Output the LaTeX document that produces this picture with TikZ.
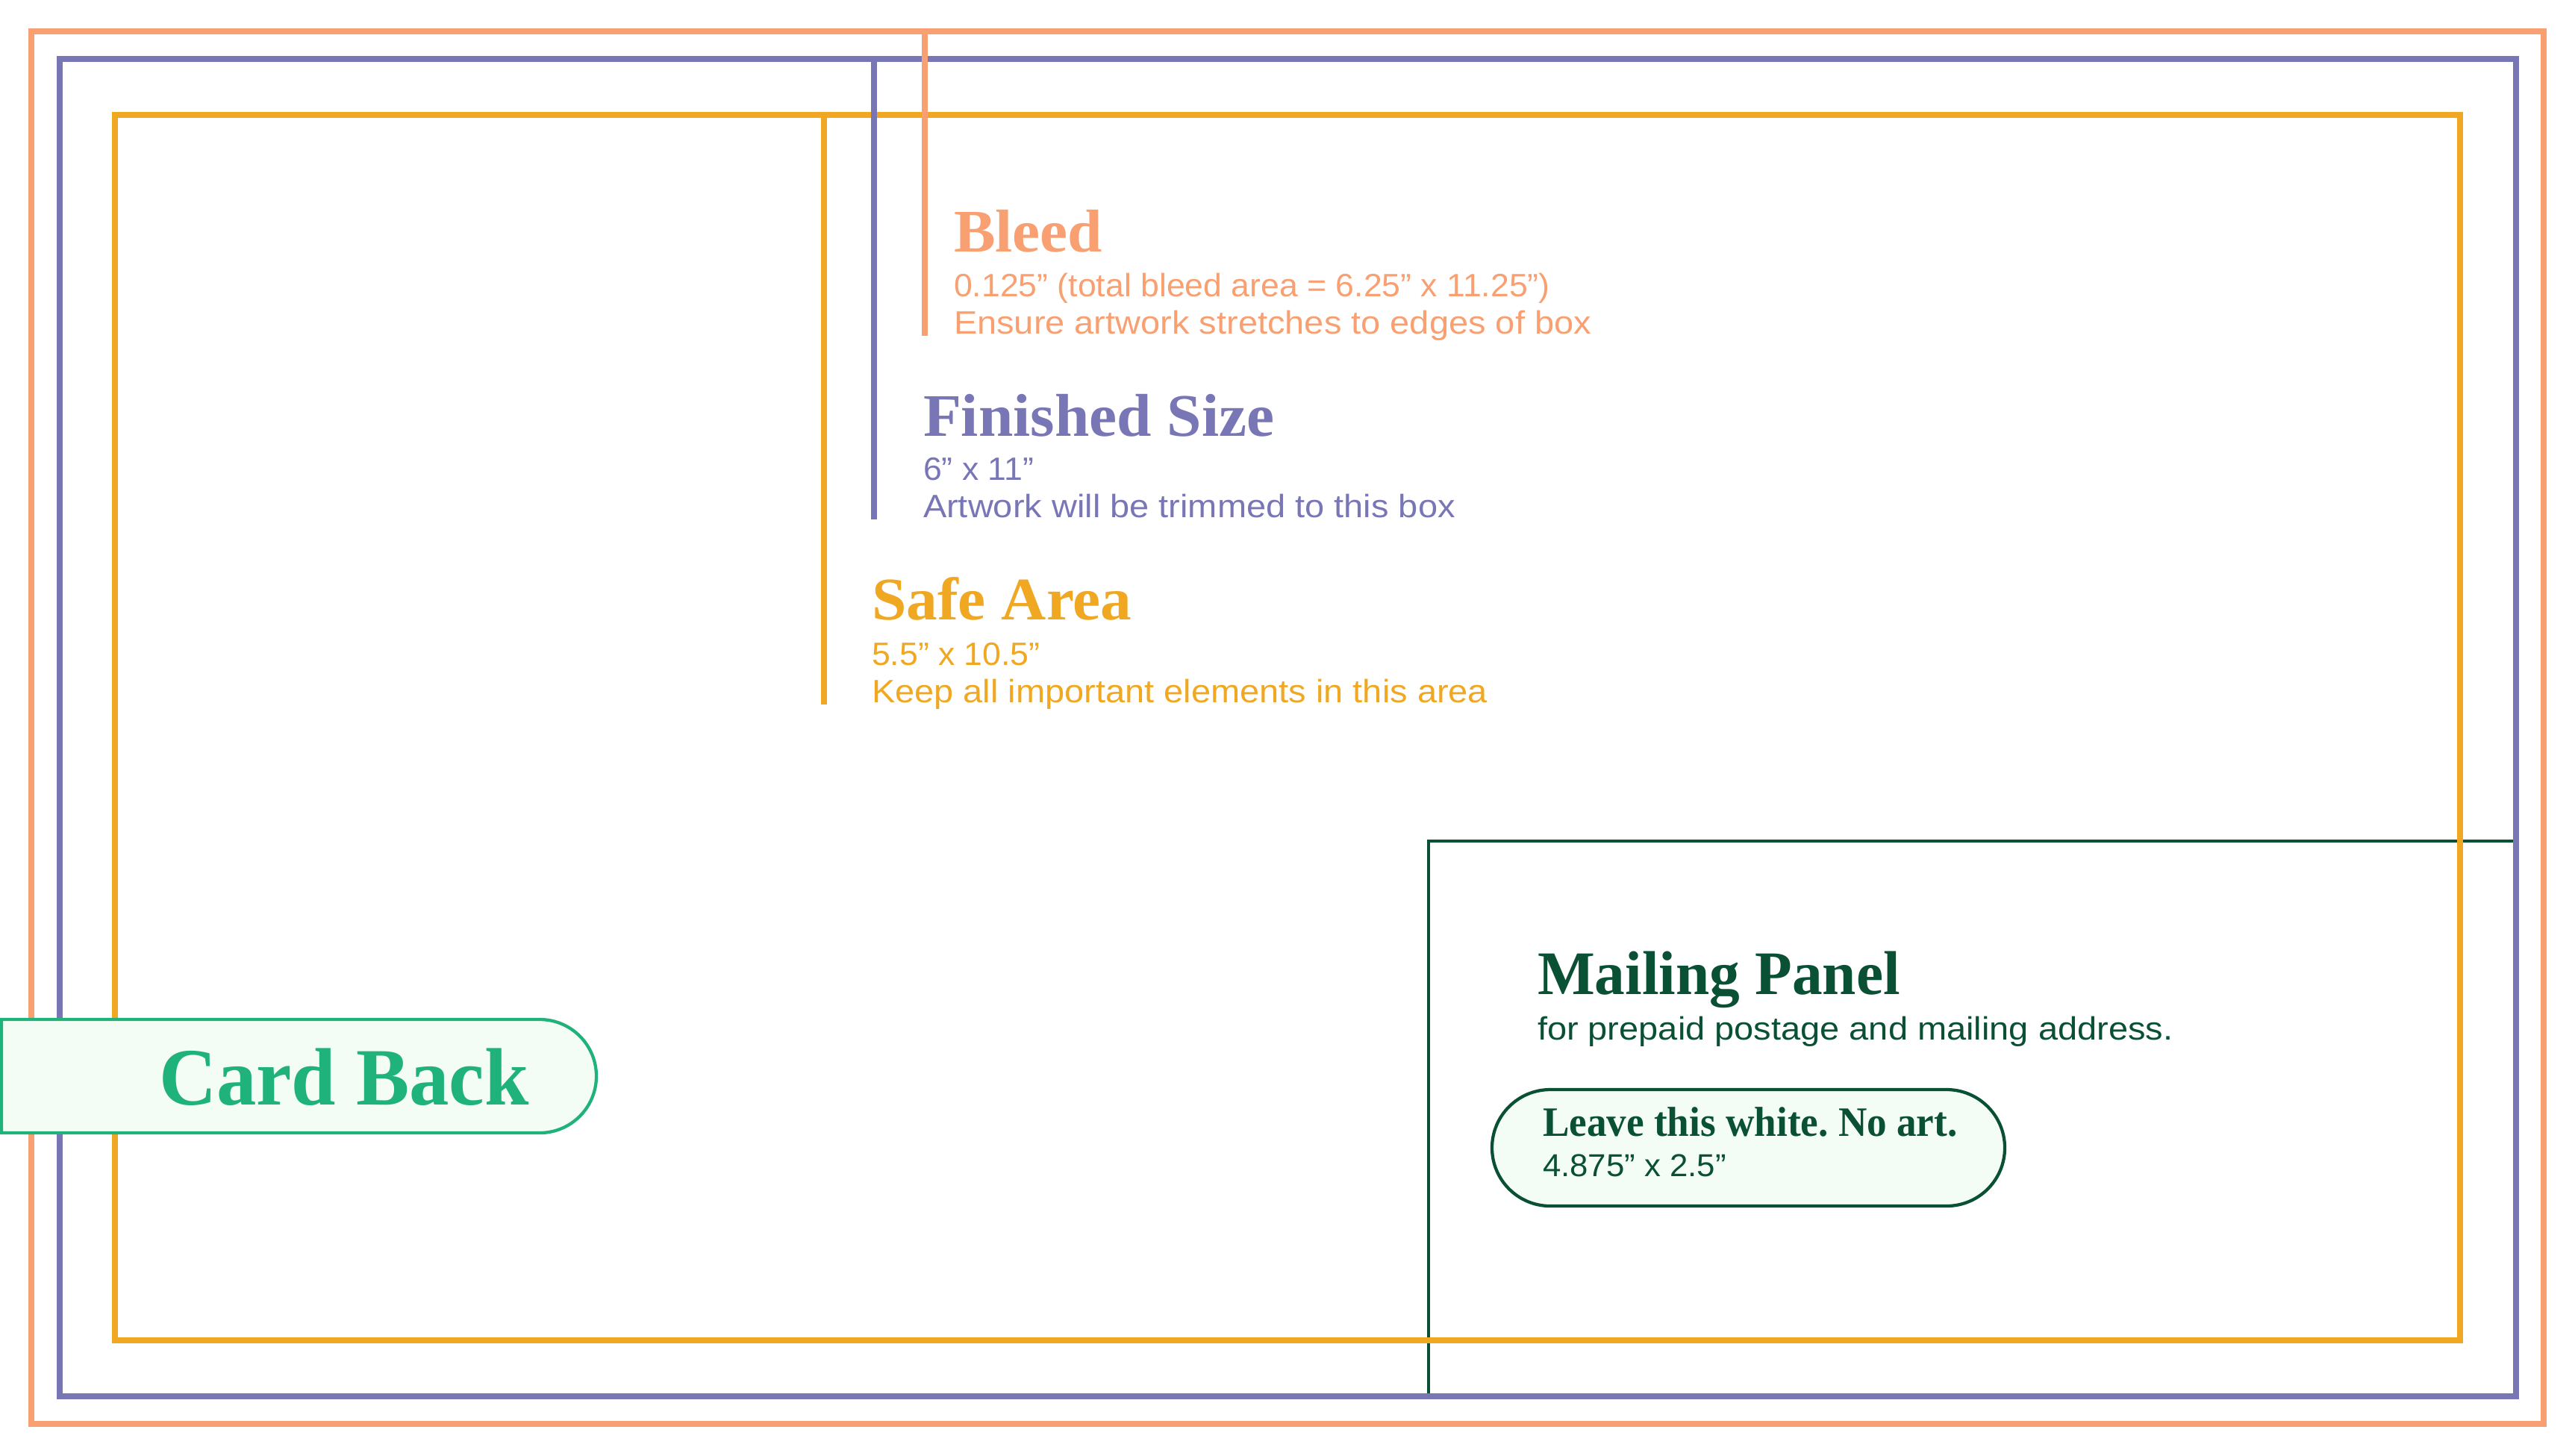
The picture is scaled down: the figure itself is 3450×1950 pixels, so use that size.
\documentclass[tikz,border=0pt]{standalone}
\usepackage{fontspec}
\setmainfont{Liberation Serif}
\frenchspacing
\newfontfamily\headfont[FakeStretch=1.03]{Liberation Serif}
\newfontfamily\mailfont[FakeStretch=0.98]{Liberation Serif}
\newfontfamily\leavefont[FakeStretch=0.95]{Liberation Serif}
\newfontfamily\bodyfont[FakeStretch=1.085]{Liberation Sans}
\newfontfamily\numfont[FakeStretch=1.03]{Liberation Sans}
\usetikzlibrary{shapes.misc}
\definecolor{bleedc}{HTML}{F8A072}
\definecolor{finc}{HTML}{7976B6}
\definecolor{safec}{HTML}{F0A823}
\definecolor{cardc}{HTML}{1FB27B}
\definecolor{pillfill}{HTML}{F3FDF5}
\definecolor{darkc}{HTML}{0A5034}
\tikzset{
  frame/.style={line width=1.6pt},
  head/.style={anchor=base west, inner sep=0pt, font=\headfont\bfseries\fontsize{16.2pt}{16.2pt}\selectfont},
  sub/.style={anchor=base west, inner sep=0pt, font=\bodyfont\fontsize{8.66pt}{8.66pt}\selectfont},
  subnum/.style={anchor=base west, inner sep=0pt, font=\numfont\fontsize{8.66pt}{8.66pt}\selectfont},
  pill/.style={rounded rectangle, inner sep=0pt, line width=0.85pt},
}
\begin{document}
\begin{tikzpicture}[x=0.2pt, y=-0.2pt]
\useasboundingbox (0,0) rectangle (3450,1950);
% mailing panel outline
\coordinate (mpR) at (3371,1127);
\coordinate (mpTL) at (1914,1127);
\coordinate (mpB) at (1914,1871);
\draw[darkc, line width=0.85pt] (mpR) -- (mpTL) -- (mpB);
% frames
\draw[safec, frame] (154,154) rectangle (3296,1796);
\draw[finc, frame] (80,79) rectangle (3371,1871);
\draw[bleedc, frame] (42,42) rectangle (3408,1908);
% marker bars
\coordinate (bm1) at (1239,38);  \coordinate (bm2) at (1239,450);
\coordinate (fm1) at (1171,75);  \coordinate (fm2) at (1171,696);
\coordinate (sm1) at (1104,150); \coordinate (sm2) at (1104,944);
\draw[bleedc, frame] (bm1) -- (bm2);
\draw[finc, frame] (fm1) -- (fm2);
\draw[safec, frame] (sm1) -- (sm2);
% labels
\node[head, text=bleedc] (bleedT) at (1277,337) {Bleed};
\node[subnum, text=bleedc] (bleedA) at (1277,397) {0.125” (total bleed area = 6.25” x 11.25”)};
\node[sub, text=bleedc] (bleedB) at (1277,447) {Ensure artwork stretches to edges of box};
\node[head, text=finc] (finT) at (1236,584) {Finished Size};
\node[subnum, text=finc] (finA) at (1236,643) {6” x 11”};
\node[sub, text=finc] (finB) at (1236,693) {Artwork will be trimmed to this box};
\node[head, text=safec] (safeT) at (1167,830) {Safe Area};
\node[subnum, text=safec] (safeA) at (1167,891) {5.5” x 10.5”};
\node[sub, text=safec] (safeB) at (1167,941) {Keep all important elements in this area};
% card back tab
\node[pill, rounded rectangle left arc=none, draw=cardc, fill=pillfill,
      minimum width=159.4pt, minimum height=30.4pt] (cardbox) at (400.5,1442) {};
\node[anchor=base west, inner sep=0pt, text=cardc,
      font=\mailfont\bfseries\fontsize{21.8pt}{21.8pt}\selectfont] (cardT) at (212,1480) {Card Back};
% mailing panel texts
\node[anchor=base west, inner sep=0pt, text=darkc, font=\mailfont\bfseries\fontsize{16.6pt}{16.6pt}\selectfont] (mailT) at (2059,1332) {Mailing Panel};
\node[sub, text=darkc] (mailA) at (2059,1393) {for prepaid postage and mailing address.};
\node[pill, draw=darkc, fill=pillfill, minimum width=137.4pt, minimum height=31.2pt] (whitebox) at (2342.5,1538) {};
\node[anchor=base west, inner sep=0pt, text=darkc,
      font=\leavefont\bfseries\fontsize{11.2pt}{11.2pt}\selectfont] (whiteT) at (2066,1522) {Leave this white. No art.};
\node[subnum, text=darkc, font=\numfont\fontsize{8.5pt}{8.5pt}\selectfont] (whiteA) at (2066,1576) {4.875” x 2.5”};
\end{tikzpicture}
\end{document}
